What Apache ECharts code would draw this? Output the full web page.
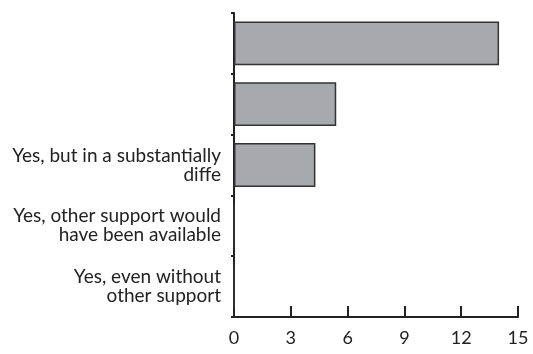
<!DOCTYPE html>
<html>
<head>
<meta charset="utf-8">
<script src="https://cdn.jsdelivr.net/npm/echarts@6/dist/echarts.min.js"></script>
<style>
  html, body { margin: 0; padding: 0; background: #fff; }
  #chart { width: 533px; height: 354px; }
</style>
</head>
<body>
<div id="chart"></div>
<script>
// bottom to top
var categories = [
    'Yes, even without\nother support',
    'Yes, other support would\nhave been available',
    'Yes, but in a substantially\ndiffe',
    '',
    ' '
];
var values = [0, 0, 4.3, 5.4, 14];
var xTicks = [0, 3, 6, 9, 12, 15];

var chart = echarts.init(document.getElementById('chart'));
chart.setOption({
    animation: false,
    grid: { left: 234, right: 15, top: 13, bottom: 37 },
    textStyle: { fontFamily: 'Lato' },
    xAxis: {
        type: 'value',
        min: xTicks[0],
        max: xTicks[xTicks.length - 1],
        interval: 3,
        splitLine: { show: false },
        axisLine: { show: true, lineStyle: { color: '#222', width: 2 } },
        axisTick: { show: true, inside: true, length: 11, lineStyle: { color: '#222', width: 2 } },
        axisLabel: { color: '#222', fontSize: 18, margin: 12, fontFamily: 'Lato' }
    },
    yAxis: {
        type: 'category',
        data: categories,
        axisLine: { show: true, lineStyle: { color: '#222', width: 2 } },
        axisTick: { show: true, length: 3, lineStyle: { color: '#222', width: 2 } },
        axisLabel: {
            color: '#222', fontSize: 19, lineHeight: 19, margin: 13,
            align: 'right', fontFamily: 'Lato'
        }
    },
    series: [{
        type: 'bar',
        data: values,
        barCategoryGap: '28%',
        itemStyle: { color: '#a8a9ac', borderColor: '#333', borderWidth: 1.5 }
    }]
});
</script>
</body>
</html>
